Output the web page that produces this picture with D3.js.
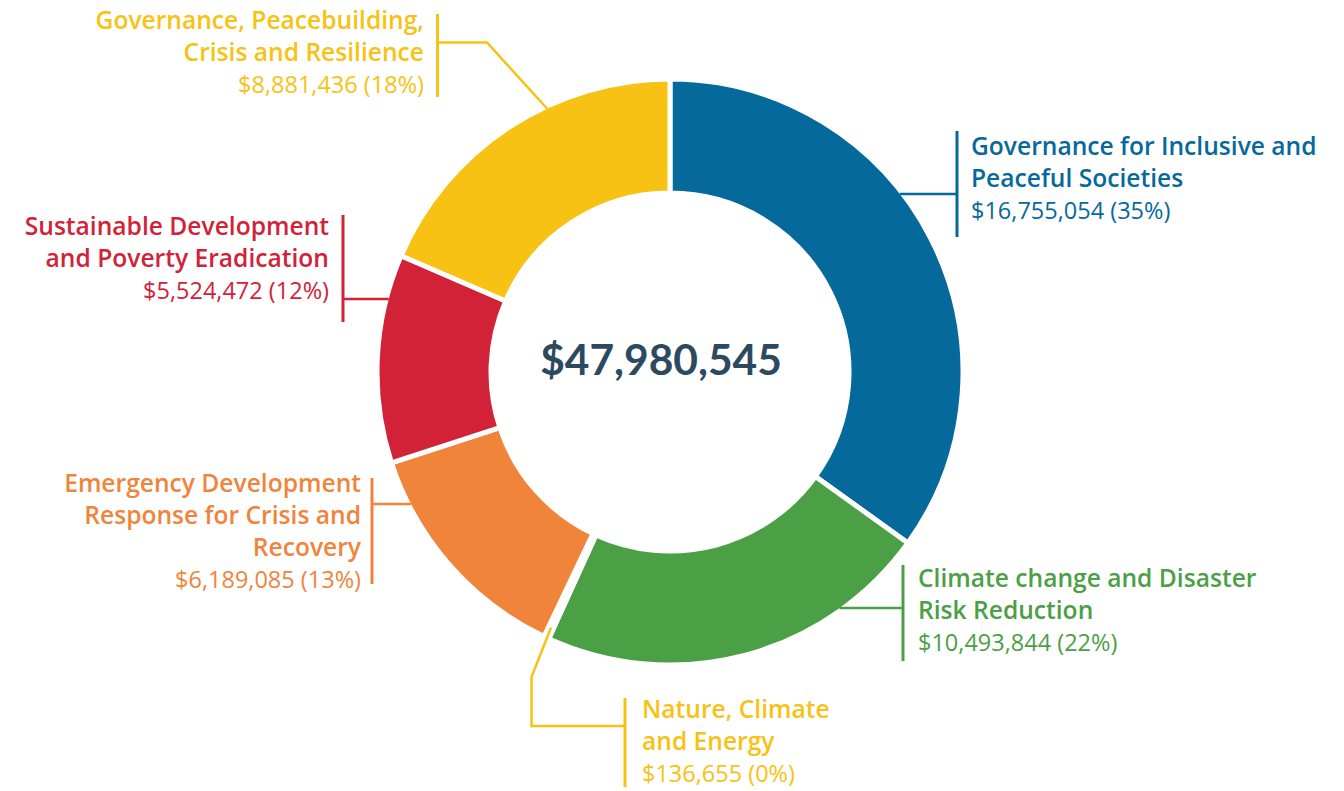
<!DOCTYPE html>
<html>
<head>
<meta charset="utf-8">
<script src="https://cdn.jsdelivr.net/npm/d3@7"></script>
<style>
  body { margin: 0; background: #fff; }
  svg { display: block; font-family: "Open Sans", Lato, sans-serif; }
</style>
</head>
<body>
<div id="chart"></div>
<script>
// data, clockwise from 12 o'clock
const categories = [
    ["Governance for Inclusive and", "Peaceful Societies"],
    ["Climate change and Disaster", "Risk Reduction"],
    ["Nature, Climate", "and Energy"],
    ["Emergency Development", "Response for Crisis and", "Recovery"],
    ["Sustainable Development", "and Poverty Eradication"],
    ["Governance, Peacebuilding,", "Crisis and Resilience"]
];
const values = [16755054, 10493844, 136655, 6189085, 5524472, 8881436];
const percentLabels = ["35%", "22%", "0%", "13%", "12%", "18%"];
const totalLabel = "$47,980,545";
const colors = ["#06699b", "#4ba046", "#f7c214", "#f0843b", "#d22238", "#f7c214"];

// label placement (layout only)
const labelLayout = [
    { side: "right", textX: 971, baseline: 155, barX: 957, barY: [131, 237], hookY: 194 },
    { side: "right", textX: 918, baseline: 587, barX: 903, barY: [565, 661], hookY: 608 },
    { side: "right", textX: 642, baseline: 718, barX: 625, barY: [698, 787], hookY: 726, anchorR: 282, bend: [531.5, 677], bendX: 531.5 },
    { side: "left",  textX: 361, baseline: 492, barX: 372, barY: [478, 584], hookY: 504 },
    { side: "left",  textX: 329, baseline: 235, barX: 343, barY: [215, 322], hookY: 299 },
    { side: "left",  textX: 424, baseline: 29,  barX: 437.5, barY: [14, 97], hookY: 42.5, anchorAngle: 335, bendX: 487 }
];

const width = 1344, height = 791;
const cx = 670, cy = 372;
const outerR = 293, innerR = 179;
const lineHeight = 32;
const fmt = d3.format("$,");

const svg = d3.select("#chart").append("svg")
    .attr("width", width)
    .attr("height", height);

const pie = d3.pie().sort(null).value(d => d);
const arcs = pie(values);

const arc = d3.arc()
    .innerRadius(innerR)
    .outerRadius(outerR);

const g = svg.append("g").attr("transform", "translate(" + cx + "," + cy + ")");

g.selectAll("path.slice")
    .data(arcs)
    .join("path")
    .attr("class", "slice")
    .attr("d", arc)
    .attr("fill", (d, i) => colors[i])
    .attr("stroke", "#fff")
    .attr("stroke-width", 5)
    .attr("stroke-linejoin", "miter");

// total in the hole, sits a little left of centre like the original
g.append("text")
    .attr("text-anchor", "middle")
    .attr("x", -9)
    .attr("y", 3)
    .attr("fill", "#2c4a5f")
    .attr("font-family", "Lato, sans-serif")
    .attr("font-size", 42.5)
    .attr("font-weight", 700)
    .text(totalLabel);

// point on the visible outer edge
const edgeR = outerR - 2.5;
function polar(angleDeg, r) {
    const a = angleDeg * Math.PI / 180;
    return [cx + r * Math.sin(a), cy - r * Math.cos(a)];
}
function edgeXAtY(y, side) {
    const dx = Math.sqrt(edgeR * edgeR - (y - cy) * (y - cy));
    return side === "right" ? cx + dx : cx - dx;
}

const labels = svg.append("g").attr("class", "labels");

arcs.forEach((d, i) => {
    const L = labelLayout[i];
    const col = colors[i];
    const grp = labels.append("g");

    // leader line
    let pts;
    if (L.anchorR !== undefined) {
        const mid = (d.startAngle + d.endAngle) / 2 * 180 / Math.PI;
        pts = [polar(mid, L.anchorR), L.bend, [L.bendX, L.hookY], [L.barX, L.hookY]];
    } else if (L.anchorAngle !== undefined) {
        pts = [polar(L.anchorAngle, edgeR), [L.bendX, L.hookY], [L.barX, L.hookY]];
    } else {
        pts = [[edgeXAtY(L.hookY, L.side), L.hookY], [L.barX, L.hookY]];
    }
    grp.append("path")
        .attr("d", d3.line()(pts))
        .attr("fill", "none")
        .attr("stroke", col)
        .attr("stroke-width", 2.5)
        .attr("stroke-linejoin", "miter");

    grp.append("line")
        .attr("x1", L.barX).attr("x2", L.barX)
        .attr("y1", L.barY[0]).attr("y2", L.barY[1])
        .attr("stroke", col)
        .attr("stroke-width", 3);

    const anchor = L.side === "right" ? "start" : "end";
    const lines = categories[i].map(t => ({ t: t, bold: true }))
        .concat([{ t: fmt(values[i]) + " (" + percentLabels[i] + ")", bold: false }]);

    grp.selectAll("text")
        .data(lines)
        .join("text")
        .attr("x", L.textX)
        .attr("y", (l, j) => L.baseline + j * lineHeight)
        .attr("text-anchor", anchor)
        .attr("fill", col)
        .attr("font-size", l => l.bold ? 24.6 : 23.5)
        .attr("font-weight", l => l.bold ? 600 : 400)
        .text(l => l.t);
});
</script>
</body>
</html>
